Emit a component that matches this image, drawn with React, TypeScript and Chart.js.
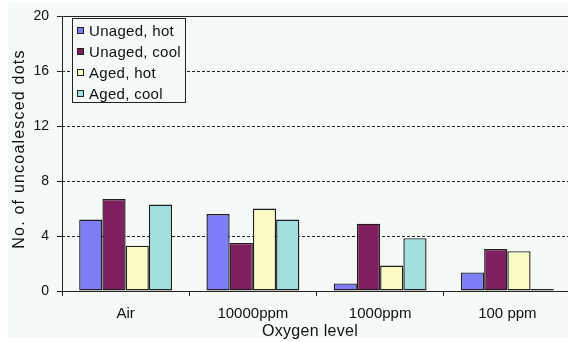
import React, { useEffect, useRef } from "react";
import { Chart, registerables } from "chart.js";

Chart.register(...registerables);

const oxygenLevels = ["Air", "10000ppm", "1000ppm", "100 ppm"];
const unagedHot = [5.2, 5.6, 0.55, 1.35];
const unagedCool = [6.7, 3.5, 4.9, 3.05];
const agedHot = [3.3, 6.0, 1.85, 2.9];
const agedCool = [6.3, 5.2, 3.85, 0.15];
const yTicks = [0, 4, 8, 12, 16, 20];

const seriesNames = ["Unaged, hot", "Unaged, cool", "Aged, hot", "Aged, cool"];
const seriesColors = ["#7d7df6", "#7f1f5f", "#fafac4", "#a2e0e0"];

const BG = "#f5faf7";
const INK = "#222222";
const FONT = "'Liberation Sans', Arial, sans-serif";

const W = 580;
const H = 342;

// Page background, dashed gridlines and the plot's top border
const backdrop = {
  id: "backdrop",
  beforeDraw(chart: any) {
    const { ctx } = chart;
    ctx.save();
    ctx.fillStyle = "#ffffff";
    ctx.fillRect(0, 0, W, H);
    ctx.fillStyle = BG;
    ctx.fillRect(8, 3, W - 8, 334);
    ctx.restore();
  },
  beforeDatasetsDraw(chart: any) {
    const { ctx, chartArea } = chart;
    const y = chart.scales.y;
    ctx.save();
    ctx.strokeStyle = INK;
    ctx.lineWidth = 1;
    yTicks.forEach((v) => {
      if (v === 0) return;
      const py = Math.round(y.getPixelForValue(v)) + 0.5;
      ctx.setLineDash(v === 20 ? [] : [3, 2]);
      ctx.beginPath();
      ctx.moveTo(chartArea.left, py);
      ctx.lineTo(chartArea.right, py);
      ctx.stroke();
    });
    ctx.restore();
  },
};

// Axis titles and the boxed legend inside the plot
const annotations = {
  id: "annotations",
  afterDraw(chart: any) {
    const { ctx, chartArea } = chart;
    ctx.save();
    ctx.fillStyle = "#111111";
    ctx.font = `16px ${FONT}`;
    ctx.textAlign = "center";
    ctx.textBaseline = "middle";
    (ctx as any).letterSpacing = "0.3px";
    ctx.fillText("Oxygen level", 310, 332);
    (ctx as any).letterSpacing = "1.2px";
    ctx.translate(20, 149);
    ctx.rotate(-Math.PI / 2);
    ctx.fillText("No. of uncoalesced dots", 0, 0);
    ctx.restore();

    // legend
    ctx.save();
    const lx = chartArea.left + 10;
    const ly = 18;
    ctx.fillStyle = BG;
    ctx.fillRect(lx, ly, 113, 84);
    ctx.strokeStyle = INK;
    ctx.lineWidth = 1;
    ctx.strokeRect(lx + 0.5, ly + 0.5, 113, 84);
    ctx.font = `15px ${FONT}`;
    (ctx as any).letterSpacing = "0.3px";
    ctx.textAlign = "left";
    ctx.textBaseline = "middle";
    chart.data.datasets.forEach((ds: any, i: number) => {
      const cy = ly + 12.5 + i * 21;
      ctx.fillStyle = ds.backgroundColor;
      ctx.fillRect(lx + 5, Math.round(cy - 3.5), 7, 7);
      ctx.strokeStyle = INK;
      ctx.strokeRect(lx + 5.5, Math.round(cy - 3.5) + 0.5, 6, 6);
      ctx.fillStyle = "#111111";
      ctx.fillText(ds.label, lx + 17, cy + 1);
    });
    ctx.restore();
  },
};

export default function App() {
  const canvasRef = useRef<HTMLCanvasElement | null>(null);

  useEffect(() => {
    document.body.style.margin = "0";
    document.body.style.overflow = "hidden";
    const canvas = canvasRef.current;
    if (!canvas) return;
    const values = [unagedHot, unagedCool, agedHot, agedCool];
    const chart = new Chart(canvas, {
      type: "bar",
      data: {
        labels: oxygenLevels,
        datasets: values.map((data, i) => ({
          label: seriesNames[i],
          data,
          backgroundColor: seriesColors[i],
          borderColor: "#1e1e1e",
          borderWidth: 1.4,
          borderSkipped: false,
          categoryPercentage: 0.73,
          barPercentage: 1,
        })),
      },
      options: {
        responsive: false,
        animation: false,
        devicePixelRatio: 1,
        layout: { padding: { top: 16, right: 9, left: 0, bottom: 0 } },
        plugins: {
          legend: { display: false },
          tooltip: { enabled: false },
        },
        scales: {
          x: {
            afterFit: (s: any) => {
              s.height = 51;
            },
            grid: {
              drawOnChartArea: false,
              drawTicks: true,
              tickLength: 5,
              tickColor: INK,
              offset: true,
            },
            border: { display: true, color: INK, width: 1 },
            ticks: {
              color: "#111111",
              font: { family: FONT, size: 15 },
              padding: 9,
              maxRotation: 0,
            },
          },
          y: {
            min: 0,
            max: 20,
            afterFit: (s: any) => {
              s.width = 62;
            },
            afterBuildTicks: (s: any) => {
              s.ticks = yTicks.map((v) => ({ value: v }));
            },
            grid: {
              drawOnChartArea: false,
              drawTicks: true,
              tickLength: 5,
              tickColor: INK,
            },
            border: { display: true, color: INK, width: 1 },
            ticks: {
              color: "#111111",
              font: { family: FONT, size: 14 },
              padding: 8,
            },
          },
        },
      },
      plugins: [backdrop, annotations],
    });
    return () => chart.destroy();
  }, []);

  return (
    <div style={{ position: "relative", width: W, height: H }}>
      <canvas ref={canvasRef} width={W} height={H} style={{ display: "block" }} />
    </div>
  );
}
